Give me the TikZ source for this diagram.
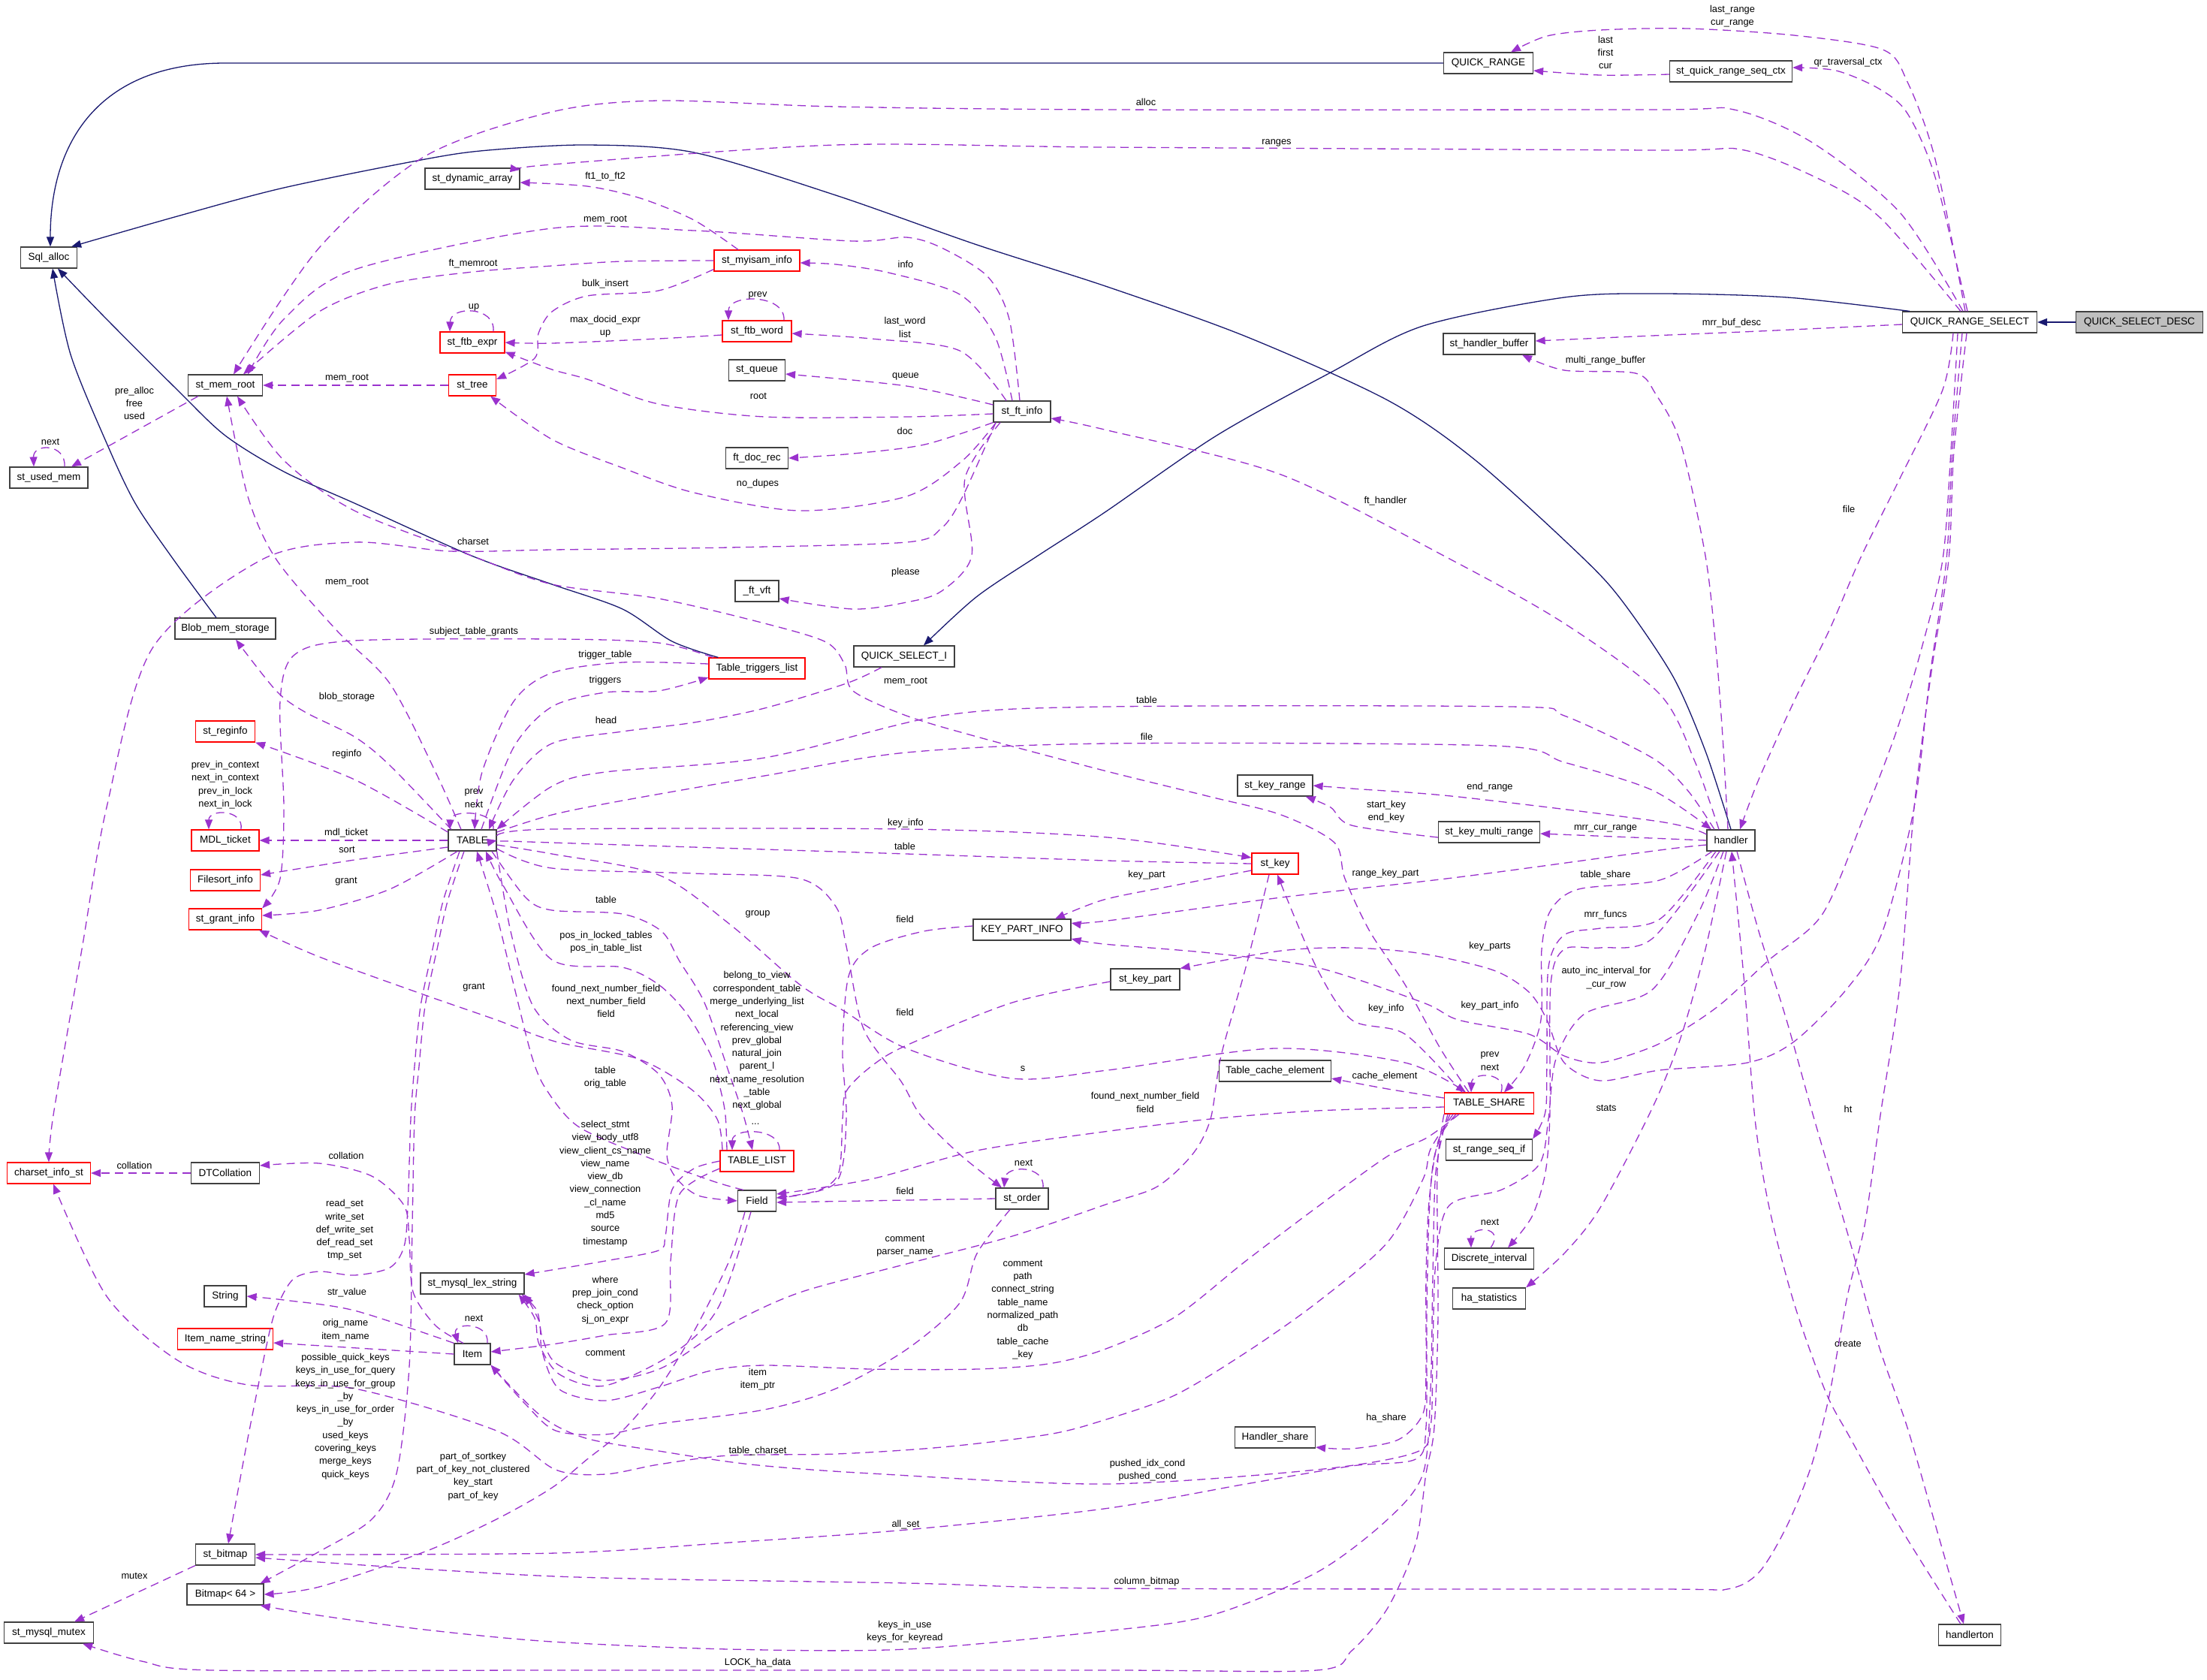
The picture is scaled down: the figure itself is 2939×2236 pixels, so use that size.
\documentclass[tikz,border=0pt]{standalone}
\usepackage{fontspec}
\setmainfont{Liberation Sans}
\usetikzlibrary{arrows.meta}
\definecolor{edgepurple}{HTML}{9A32CD}
\definecolor{navyblue}{HTML}{191970}
\definecolor{boxgray}{HTML}{404040}
\definecolor{boxred}{HTML}{FF0000}
\definecolor{fillgray}{HTML}{BFBFBF}
\newcommand\mynodefont{\fontsize{13.5}{16}\selectfont}
\newcommand\mylblfont{\fontsize{12.8}{17.3}\selectfont}
\tikzset{
  box/.style={draw=boxgray, line width=1.2pt, fill=white, minimum height=28pt, inner xsep=2pt, inner ysep=0pt, font=\mynodefont},
  rbox/.style={box, draw=boxred},
  lbl/.style={font=\mylblfont, align=center, inner sep=0pt},
  dedge/.style={draw=edgepurple, line width=1.3pt, dash pattern=on 11pt off 7pt, -{Triangle[length=13pt,width=10pt]}},
  inh/.style={draw=navyblue, line width=1.3pt, -{Triangle[length=13pt,width=10pt]}}
}
\begin{document}
\begin{tikzpicture}[x=1pt,y=-1pt]
\fill[white] (0,0) rectangle (2939,2236);
\useasboundingbox (0,0) rectangle (2939,2236);
% nodes
\node[box, minimum width=75pt] (sqlalloc) at (65,343) {Sql\_alloc};
\node[box, minimum width=126pt] (dynarr) at (629,238) {st\_dynamic\_array};
\node[box, minimum width=99pt] (memroot) at (300,513) {st\_mem\_root};
\node[rbox, minimum width=86pt] (ftbexpr) at (629,456) {st\_ftb\_expr};
\node[rbox, minimum width=63pt] (sttree) at (629,513) {st\_tree};
\node[box, minimum width=104pt] (usedmem) at (65,636) {st\_used\_mem};
\node[rbox, minimum width=114pt] (myisam) at (1008,347) {st\_myisam\_info};
\node[rbox, minimum width=92pt] (ftbword) at (1008,441) {st\_ftb\_word};
\node[box, minimum width=75pt] (stqueue) at (1008,493) {st\_queue};
\node[box, minimum width=76pt] (ftinfo) at (1361,548) {st\_ft\_info};
\node[box, minimum width=83pt] (ftdocrec) at (1008,610) {ft\_doc\_rec};
\node[box, minimum width=119pt] (qrange) at (1982,84) {QUICK\_RANGE};
\node[box, minimum width=122pt] (hbuffer) at (1983,458) {st\_handler\_buffer};
\node[box, minimum width=163pt] (seqctx) at (2305,95) {st\_quick\_range\_seq\_ctx};
\node[box, minimum width=179pt] (qrs) at (2623,429) {QUICK\_RANGE\_SELECT};
\node[box, fill=fillgray, minimum width=169pt] (qsd) at (2849,429) {QUICK\_SELECT\_DESC};
\node[box, minimum width=134pt] (blob) at (300,837) {Blob\_mem\_storage};
\node[rbox, minimum width=79pt] (reginfo) at (300,974) {st\_reginfo};
\node[rbox, minimum width=90pt] (mdl) at (300,1119) {MDL\_ticket};
\node[rbox, minimum width=93pt] (filesort) at (300,1172) {Filesort\_info};
\node[rbox, minimum width=97pt] (grantinfo) at (300,1224) {st\_grant\_info};
\node[box, minimum width=64pt] (table) at (629,1119) {TABLE};
\node[box, minimum width=58pt] (ftvft) at (1008,787) {\_ft\_vft};
\node[rbox, minimum width=128pt] (ttl) at (1008,890) {Table\_triggers\_list};
\node[box, minimum width=134pt] (qsi) at (1204,874) {QUICK\_SELECT\_I};
\node[box, minimum width=130pt] (kpi) at (1361,1238) {KEY\_PART\_INFO};
\node[box, minimum width=100pt] (keyrange) at (1698,1046) {st\_key\_range};
\node[box, minimum width=135pt] (keymulti) at (1983,1108) {st\_key\_multi\_range};
\node[rbox, minimum width=62pt] (stkey) at (1698,1150) {st\_key};
\node[box, minimum width=92pt] (keypart) at (1525,1304) {st\_key\_part};
\node[box, minimum width=149pt] (tce) at (1698,1426) {Table\_cache\_element};
\node[rbox, minimum width=119pt] (tshare) at (1983,1469) {TABLE\_SHARE};
\node[box, minimum width=64pt] (handler) at (2305,1119) {handler};
\node[rbox, minimum width=111pt] (charset) at (65,1562) {charset\_info\_st};
\node[box, minimum width=91pt] (dtcoll) at (300,1562) {DTCollation};
\node[box, minimum width=56pt] (string) at (300,1726) {String};
\node[rbox, minimum width=127pt] (itemname) at (300,1783) {Item\_name\_string};
\node[box, minimum width=48pt] (item) at (629,1803) {Item};
\node[box, minimum width=138pt] (lexstr) at (629,1709) {st\_mysql\_lex\_string};
\node[box, minimum width=79pt] (bitmap) at (300,2070) {st\_bitmap};
\node[box, minimum width=102pt] (bitmapsf) at (300,2123) {Bitmap< 64 >};
\node[box, minimum width=119pt] (mutex) at (65,2174) {st\_mysql\_mutex};
\node[rbox, minimum width=98pt] (tlist) at (1008,1546) {TABLE\_LIST};
\node[box, minimum width=51pt] (field) at (1008,1599) {Field};
\node[box, minimum width=70pt] (order) at (1361,1596) {st\_order};
\node[box, minimum width=115pt] (rangeseq) at (1983,1531) {st\_range\_seq\_if};
\node[box, minimum width=119pt] (discrete) at (1983,1676) {Discrete\_interval};
\node[box, minimum width=97pt] (hastats) at (1983,1729) {ha\_statistics};
\node[box, minimum width=107pt] (hshare) at (1698,1914) {Handler\_share};
\node[box, minimum width=83pt] (hton) at (2623,2177) {handlerton};
\coordinate (qrbend) at (300,84);
% inheritance (solid)
\draw[inh] (qsd.west) -- (qrs.east);
\draw[inh] plot[smooth] coordinates {([xshift=10pt]qrs.north west) (2380,396) (2210,391) (2083,396) (1895,434) (1772,496) (1620,580) (1470,683) (1382,740) (1300,795) ([xshift=26pt]qsi.north)};
\draw[inh] (qrange.west) -- (qrbend) .. controls (140,84) and (67,180) .. ([xshift=2pt]sqlalloc.north);
\draw[inh] plot[smooth] coordinates {(handler.north) (2271,1000) (2228,901) (2160,800) (2105,740) (1965,613) (1848,533) (1659,448) (1475,382) (1301,326) (1113,260) (924,203) (782,193) (650,200) (566,212) (378,250) (236,288) ([xshift=-8pt]sqlalloc.north east)};
\draw[inh] plot[smooth] coordinates {([xshift=13pt]ttl.north west) (895,854) (829,811) (735,778) (628,740) (472,670) (378,628) (300,580) (236,519) (142,425) ([xshift=12pt]sqlalloc.south)};
\draw[inh] plot[smooth] coordinates {([xshift=-12pt]blob.north) (231,745) (180,670) (142,590) (94,472) ([xshift=5pt]sqlalloc.south)};
% QUICK_RANGE_SELECT members
\draw[dedge] plot[smooth] coordinates {([xshift=-6pt]qrs.north) (2577,212) (2540,109) (2507,66) (2389,47) (2247,38) (2131,40) (2060,48) ([xshift=30pt]qrange.north)};
\draw[dedge] plot[smooth] coordinates {([yshift=-4pt]seqctx.west) (2131,100) ([yshift=-10pt]qrange.east)};
\draw[dedge] plot[smooth] coordinates {([xshift=-3pt]qrs.north) (2577,236) (2540,151) (2502,118) (2445,94) ([yshift=5pt]seqctx.east)};
\draw[dedge] plot[smooth] coordinates {([xshift=-9pt]qrs.north) (2530,283) (2412,189) (2309,146) (2200,146) (1475,146) (1113,142) (877,134) (735,149) (566,208) (425,330) ([xshift=11pt]memroot.north)};
\draw[dedge] plot[smooth] coordinates {([xshift=-12pt]qrs.north) (2507,293) (2436,245) (2323,200) (2200,200) (1470,196) (1113,193) (735,219) ([yshift=12pt]dynarr.east)};
\draw[dedge] plot[smooth] coordinates {([yshift=-3pt]qrs.west) (2342,441) (2200,447) ([yshift=4pt]hbuffer.east)};
\draw[dedge] plot[smooth] coordinates {([xshift=-22pt]qrs.south) (2587,519) (2530,637) (2478,742) (2436,839) (2389,934) (2342,1038) ([xshift=12pt]handler.north)};
\draw[dedge] plot[smooth] coordinates {([xshift=-16pt]qrs.south) (2598,600) (2587,745) (2559,863) (2526,972) (2483,1085) (2427,1217) (2356,1278) (2294,1335) (2247,1368) (2200,1394) (2131,1415) (2083,1406) (2036,1377) (1942,1358) (1895,1335) (1753,1288) (1612,1269) (1470,1257) ([yshift=-12pt]kpi.east)};
\draw[dedge] plot[smooth] coordinates {([xshift=-10pt]qrs.south) (2600,600) (2592,745) (2570,900) (2549,1075) (2507,1240) (2460,1316) (2389,1387) (2327,1415) (2210,1425) (2131,1439) (2083,1415) (2060,1358) (2036,1321) (1989,1292) (1895,1270) (1800,1262) (1706,1266) (keypart.north east)};
\draw[dedge] plot[smooth] coordinates {([xshift=-4pt]qrs.south) (2602,600) (2595,745) (2573,887) (2549,1075) (2530,1311) (2504,1485) (2483,1632) (2460,1726) (2436,1858) (2412,1952) (2379,2033) (2342,2094) (2300,2116) (2208,2116) (1475,2115) (1207,2108) (740,2099) ([yshift=-4pt]bitmap.east)};
% fulltext area
\draw[dedge] plot[smooth] coordinates {([xshift=-25pt]myisam.north) (924,293) (853,264) (782,248) ([yshift=-5pt]dynarr.east)};
\draw[dedge] plot[smooth] coordinates {([xshift=-3pt]ftinfo.north) (1344,425) (1315,368) (1254,330) (1207,316) (1136,321) (924,307) (735,304) (472,359) (378,425) ([xshift=30pt]memroot.north)};
\draw[dedge] plot[smooth] coordinates {(myisam.west) (829,348) (735,354) (630,362) (519,378) (425,415) ([xshift=24pt]memroot.north)};
\draw[dedge] plot[smooth] coordinates {([yshift=3pt]myisam.south west) (877,387) (782,394) (735,415) (717,444) (712,477) ([yshift=8pt]sttree.east)};
\draw[dedge] ([xshift=28pt]ftbexpr.north) .. controls (660,407) and (600,407) .. ([xshift=-30pt]ftbexpr.north);
\draw[dedge] plot[smooth] coordinates {([yshift=-5pt]ftbword.west) (877,451) (735,457) (ftbexpr.east)};
\draw[dedge] ([xshift=36pt]ftbword.north) .. controls (1046,391) and (970,391) .. ([xshift=-38pt]ftbword.north);
\draw[dedge] plot[smooth] coordinates {([xshift=-13pt]ftinfo.north) (1325,448) (1278,392) (1183,363) (1113,352) ([yshift=-3pt]myisam.east)};
\draw[dedge] plot[smooth] coordinates {([xshift=-21pt]ftinfo.north) (1278,467) (1160,451) ([yshift=-3pt]ftbword.east)};
\draw[dedge] plot[smooth] coordinates {([yshift=9pt]ftinfo.west) (1207,514) ([yshift=-5pt]stqueue.east)};
\draw[dedge] plot[smooth] coordinates {([yshift=-3pt]ftinfo.west) (1207,555) (1018,555) (877,538) (782,505) (735,492) ([yshift=2pt]ftbexpr.south east)};
\draw[dedge] plot[smooth] coordinates {(ftinfo.south west) (1231,592) (1136,604) (ftdocrec.east)};
\draw[dedge] plot[smooth] coordinates {([xshift=4pt]ftinfo.south west) (1282,613) (1207,661) (1065,680) (924,656) (829,623) (735,585) ([xshift=-8pt]sttree.south east)};
\draw[dedge] plot[smooth] coordinates {([xshift=-29pt]ftinfo.south) (1285,637) (1294,740) (1254,787) (1207,802) (1136,811) ([yshift=-10pt]ftvft.east)};
\draw[dedge] plot[smooth] coordinates {([xshift=-35pt]ftinfo.south) (1282,661) (1254,703) (1207,722) (971,729) (735,732) (600,734) (472,722) (349,745) (203,863) (142,1075) (109,1264) (71,1485) (charset.north)};
\draw[dedge] (sttree.west) -- (memroot.east);
\draw[dedge] ([xshift=14pt]memroot.south west) -- ([xshift=30pt]usedmem.north);
\draw[dedge] ([xshift=21pt]usedmem.north) .. controls (88,590) and (44,590) .. ([xshift=-20pt]usedmem.north);
% TABLE members
\draw[dedge] plot[smooth] coordinates {([xshift=-15pt]table.north) (580,1028) (519,910) (448,839) (368,745) (330,661) ([xshift=2pt]memroot.south)};
\draw[dedge] plot[smooth] coordinates {([xshift=-28pt]table.north) (519,1019) (472,981) (406,948) (368,920) ([xshift=14pt]blob.south)};
\draw[dedge] plot[smooth] coordinates {([yshift=11pt]table.west) (472,1038) (reginfo.south east)};
\draw[dedge] (table.west) -- (mdl.east);
\draw[dedge] ([xshift=21pt]mdl.north) .. controls (325,1077) and (278,1077) .. ([xshift=-22pt]mdl.north);
\draw[dedge] plot[smooth] coordinates {([yshift=-9pt]table.west) (472,1145) ([yshift=7pt]filesort.east)};
\draw[dedge] plot[smooth] coordinates {([xshift=-20pt]table.south) (519,1184) (425,1212) ([yshift=5pt]grantinfo.east)};
\draw[dedge] plot[smooth] coordinates {([xshift=6pt]ttl.north west) (877,856) (740,851) (472,853) (392,872) (373,934) (378,1075) (373,1170) (grantinfo.north east)};
\draw[dedge] plot[smooth] coordinates {([yshift=6pt]ttl.west) (829,882) (735,896) (684,934) (642,1028) ([xshift=3pt]table.north)};
\draw[dedge] plot[smooth] coordinates {([xshift=12pt]table.north) (684,995) (735,941) (806,922) (877,920) ([yshift=-12pt]ttl.west)};
\draw[dedge] plot[smooth] coordinates {([xshift=-30pt]qsi.south) (1127,910) (1018,943) (924,962) (829,974) (735,990) (684,1038) ([xshift=22pt]table.north)};
\draw[dedge] ([xshift=28pt]table.north) .. controls (660,1078) and (600,1078) .. ([xshift=-30pt]table.north);
\draw[dedge] plot[smooth] coordinates {([xshift=-22pt]handler.north) (2247,1052) (2200,1009) (2083,953) (2013,941) (1475,941) (1254,953) (1018,1009) (806,1028) (735,1047) (table.north east)};
\draw[dedge] plot[smooth] coordinates {([yshift=11pt]table.east) (735,1085) (829,1066) (1018,1033) (1207,1002) (1475,990) (1989,993) (2083,1015) (2200,1052) ([xshift=-26pt]handler.north)};
\draw[dedge] plot[smooth] coordinates {([yshift=6pt]table.east) (735,1104) (1207,1104) (1475,1115) ([yshift=8pt]stkey.west)};
\draw[dedge] plot[smooth] coordinates {(stkey.west) (1475,1146) (1207,1137) (735,1122) (table.east)};
\draw[dedge] plot[smooth] coordinates {([yshift=-6pt]table.east) (735,1137) (877,1165) (971,1230) (1065,1311) (1122,1345) (1207,1396) (1348,1436) (1475,1425) (1697,1396) (1871,1415) ([xshift=-31pt]tshare.north)};
\draw[dedge] plot[smooth] coordinates {([yshift=-11pt]table.east) (735,1156) (924,1163) (1065,1170) (1113,1207) (1127,1260) (1150,1370) (1200,1440) (1226,1485) (1278,1537) ([xshift=-27pt]order.north)};
\draw[dedge] plot[smooth] coordinates {([xshift=26pt]table.south) (700,1195) (735,1212) (829,1217) (881,1240) (905,1280) (938,1335) (971,1429) (990,1485) ([xshift=-6pt]tlist.north)};
\draw[dedge] plot[smooth] coordinates {([xshift=-40pt]tlist.north) (966,1485) (960,1453) (947,1406) (914,1349) (877,1311) (829,1288) (735,1278) (670,1179) ([xshift=18pt]table.south)};
\draw[dedge] plot[smooth] coordinates {(table.south east) (680,1240) (710,1340) (760,1385) (829,1400) (877,1430) (895,1472) (888,1537) (900,1568) (930,1592) (field.west)};
\draw[dedge] plot[smooth] coordinates {([xshift=-18pt]field.north) (950,1573) (860,1540) (770,1500) (727,1450) (708,1406) (684,1311) (661,1217) ([xshift=6pt]table.south)};
\draw[dedge] plot[smooth] coordinates {([xshift=-46pt]tlist.north) (955,1490) (920,1450) (850,1410) (740,1387) (661,1358) (566,1325) (425,1274) ([xshift=-4pt]grantinfo.south east)};
\draw[dedge] ([xshift=30pt]tlist.north) .. controls (1040,1501) and (975,1501) .. ([xshift=-33pt]tlist.north);
\draw[dedge] plot[smooth] coordinates {([xshift=-17pt]table.south) (590,1200) (576,1264) (560,1340) (552,1420) (547,1490) (543,1608) (538,1660) (519,1688) (472,1698) (425,1693) (392,1702) (373,1731) (359,1773) (330,1915) ([xshift=4pt]bitmap.north)};
\draw[dedge] plot[smooth] coordinates {([xshift=-11pt]table.south) (596,1200) (582,1264) (566,1340) (558,1420) (552,1490) (549,1632) (545,1820) (528,1962) (495,2023) (425,2066) ([xshift=-5pt]bitmapsf.north east)};
% key related
\draw[dedge] plot[smooth] coordinates {([yshift=8pt]handler.west) (2210,1094) (1942,1061) (1800,1050) (keyrange.east)};
\draw[dedge] plot[smooth] coordinates {([yshift=-7pt]keymulti.west) (1800,1099) (1772,1075) ([xshift=-10pt]keyrange.south east)};
\draw[dedge] (handler.west) -- ([yshift=-2pt]keymulti.east);
\draw[dedge] plot[smooth] coordinates {([yshift=-6pt]handler.west) (2210,1132) (1942,1168) (1706,1195) (1475,1226) ([yshift=9pt]kpi.east)};
\draw[dedge] plot[smooth] coordinates {([yshift=-9pt]stkey.west) (1564,1179) (1470,1198) ([xshift=44pt]kpi.north)};
\draw[dedge] plot[smooth] coordinates {([yshift=5pt]kpi.west) (1230,1240) (1160,1262) (1130,1300) (1122,1400) (1127,1490) (1113,1575) ([yshift=4pt]field.east)};
\draw[dedge] plot[smooth] coordinates {([yshift=-3pt]keypart.west) (1348,1335) (1207,1392) (1160,1420) (1127,1453) (1122,1490) (1117,1561) (1090,1585) ([yshift=4pt]field.east)};
\draw[dedge] (order.west) -- ([yshift=-2pt]field.east);
\draw[dedge] ([xshift=28pt]order.north) .. controls (1392,1551) and (1340,1551) .. ([xshift=-24pt]order.north);
% handler members
\draw[dedge] plot[smooth] coordinates {([xshift=-16pt]handler.north) (2257,1014) (2210,924) (2083,830) (1932,745) (1706,632) (1475,573) ([yshift=-9pt]ftinfo.east)};
\draw[dedge] plot[smooth] coordinates {([xshift=-4pt]handler.north) (2294,981) (2285,863) (2271,740) (2238,590) (2205,525) (2178,497) (2083,493) ([xshift=44pt]hbuffer.south)};
\draw[dedge] plot[smooth] coordinates {([xshift=-25pt]handler.south) (2210,1172) (2102,1184) (2065,1212) (2053,1264) (2052,1358) (2030,1420) ([xshift=20pt]tshare.north)};
\draw[dedge] plot[smooth] coordinates {([xshift=-20pt]handler.south) (2210,1224) (2131,1236) (2083,1245) (2062,1288) (2060,1406) (2058,1480) (rangeseq.north east)};
\draw[dedge] plot[smooth] coordinates {([xshift=-15pt]handler.south) (2200,1250) (2131,1262) (2083,1264) (2065,1311) (2064,1481) (2058,1561) (2040,1620) ([xshift=25pt]discrete.north)};
\draw[dedge] plot[smooth] coordinates {([xshift=-6pt]handler.south) (2271,1264) (2238,1382) (2200,1476) (2131,1608) (2083,1669) (hastats.north east)};
\draw[dedge] plot[smooth] coordinates {([xshift=-10pt]handler.south) (2261,1217) (2200,1318) (2110,1350) (2072,1410) (2062,1490) (2050,1550) (2000,1584) (1930,1605) (1912,1680) (1908,1800) (1905,1900) (1885,1934) (1753,1957) (1470,1976) (1160,1962) (1000,1950) (877,1932) (780,1915) (720,1885) (item.south east)};
\draw[dedge] plot[smooth] coordinates {([xshift=8pt]handler.south) (2342,1240) (2379,1358) (2415,1487) (2464,1655) (2502,1792) (2540,1901) (2578,2033) ([xshift=-8pt]hton.north)};
\draw[dedge] plot[smooth] coordinates {([xshift=-12pt]hton.north) (2530,2033) (2464,1915) (2431,1853) (2389,1735) (2356,1608) (2337,1490) (2323,1311) ([xshift=1pt]handler.south)};
\draw[dedge] ([xshift=2pt]discrete.north) .. controls (2006,1632) and (1958,1632) .. ([xshift=-24pt]discrete.north);
% TABLE_SHARE members
\draw[dedge] ([xshift=16pt]tshare.north) .. controls (2008,1427) and (1960,1427) .. ([xshift=-24pt]tshare.north);
\draw[dedge] plot[smooth] coordinates {([xshift=-36pt]tshare.north) (1871,1377) (1800,1358) (1753,1288) ([xshift=3pt]stkey.south)};
\draw[dedge] plot[smooth] coordinates {([xshift=-27pt]tshare.north) (1918,1396) (1871,1311) (1824,1240) (1791,1170) (1777,1122) (1706,1085) (1612,1061) (1470,1026) (1301,981) (1207,953) (1136,920) (1125,885) (1100,855) (1018,830) (877,797) (735,778) (628,740) (472,680) (378,613) ([xshift=16pt]memroot.south)};
\draw[dedge] plot[smooth] coordinates {([yshift=7pt]tshare.west) (1848,1450) ([yshift=-10pt]tce.east)};
\draw[dedge] plot[smooth] coordinates {([yshift=-5pt]tshare.west) (1753,1479) (1612,1490) (1470,1507) (1301,1532) (1160,1570) ([yshift=9pt]field.east)};
\draw[dedge] plot[smooth] coordinates {([xshift=-44pt]tshare.south) (1915,1520) (1903,1600) (1899,1700) (1899,1820) (1895,1882) (1862,1917) (1800,1929) ([yshift=-13pt]hshare.east)};
\draw[dedge] plot[smooth] coordinates {([xshift=-40pt]tshare.south) (1900,1515) (1847,1540) (1753,1608) (1659,1679) (1564,1754) (1470,1797) (1396,1816) (1301,1823) (1160,1823) (1018,1818) (947,1825) (877,1847) (806,1865) (745,1850) (722,1800) (718,1760) (lexstr.south east)};
\draw[dedge] plot[smooth] coordinates {([xshift=-48pt]tshare.south) (1905,1530) (1895,1570) (1847,1655) (1753,1735) (1659,1801) (1564,1858) (1470,1891) (1396,1910) (1254,1927) (1113,1936) (971,1938) (877,1950) (806,1963) (740,1957) (661,1905) (472,1849) (330,1844) (236,1811) (142,1726) ([xshift=6pt]charset.south)};
\draw[dedge] plot[smooth] coordinates {([xshift=-52pt]tshare.south) (1910,1540) (1903,1620) (1900,1750) (1899,1900) (1885,1943) (1800,1952) (1659,1976) (1470,2009) (1207,2037) (971,2054) (740,2068) (bitmap.east)};
\draw[dedge] plot[smooth] coordinates {([xshift=-55pt]tshare.south) (1912,1560) (1908,1700) (1905,1850) (1895,1962) (1848,2023) (1753,2094) (1612,2151) (1470,2172) (1207,2196) (971,2196) (735,2186) (566,2170) (425,2151) ([xshift=-5pt]bitmapsf.south east)};
\draw[dedge] plot[smooth] coordinates {(tshare.south west) (1914,1560) (1915,1750) (1910,1900) (1899,1962) (1885,2056) (1848,2141) (1800,2198) (1753,2224) (1475,2224) (735,2224) (283,2224) (189,2212) ([xshift=-15pt]mutex.south east)};
% TABLE_LIST / Field / Item / st_order
\draw[dedge] plot[smooth] coordinates {(tlist.west) (924,1556) (895,1584) (886,1646) (877,1665) (806,1679) (735,1691) ([yshift=12pt]lexstr.east)};
\draw[dedge] plot[smooth] coordinates {([yshift=-10pt]tlist.west) (905,1590) (893,1679) (886,1762) (806,1778) (735,1790) ([yshift=3pt]item.east)};
\draw[dedge] plot[smooth] coordinates {([xshift=-16pt]order.south) (1301,1669) (1278,1735) (1207,1797) (1113,1849) (1018,1877) (877,1896) (806,1910) (740,1905) (700,1870) (item.south east)};
\draw[dedge] plot[smooth] coordinates {([xshift=-16pt]field.south) (971,1679) (924,1773) (877,1849) (829,1905) (782,1943) (735,1981) (661,2023) (566,2066) (425,2113) (bitmapsf.east)};
\draw[dedge] plot[smooth] coordinates {([xshift=-8pt]field.south) (957,1740) (900,1800) (806,1845) (745,1830) (718,1790) (712,1755) ([xshift=-8pt]lexstr.south east)};
\draw[dedge] plot[smooth] coordinates {([xshift=-8pt]stkey.south) (1659,1288) (1626,1406) (1612,1490) (1588,1537) (1541,1580) (1475,1603) (1348,1646) (1207,1683) (1065,1721) (971,1764) (880,1822) (800,1838) (740,1815) (722,1780) (715,1745) ([xshift=-4pt]lexstr.south east)};
\draw[dedge] plot[smooth] coordinates {([xshift=-12pt]item.north) (580,1765) (550,1720) (545,1650) (538,1605) (495,1566) (425,1549) ([yshift=10pt]dtcoll.east)};
\draw[dedge] plot[smooth] coordinates {(item.north west) (472,1745) (378,1731) (string.east)};
\draw[dedge] (item.west) -- ([yshift=-5pt]itemname.east);
\draw[dedge] ([xshift=20pt]item.north) .. controls (652,1760) and (602,1760) .. ([xshift=-19pt]item.north);
\draw[dedge] (dtcoll.west) -- (charset.east);
\draw[dedge] (bitmap.south west) -- ([xshift=-26pt]mutex.north east);
% labels
\node[lbl] (l1) at (2307,22) {last\_range\\cur\_range};
\node[lbl] (l2) at (2138,70) {last\\first\\cur};
\node[lbl] (l3) at (2461,83) {qr\_traversal\_ctx};
\node[lbl] (l4) at (1526,136) {alloc};
\node[lbl] (l5) at (1700,190) {ranges};
\node[lbl] (l6) at (806,235) {ft1\_to\_ft2};
\node[lbl] (l7) at (806,293) {mem\_root};
\node[lbl] (l8) at (630,351) {ft\_memroot};
\node[lbl] (l9) at (806,378) {bulk\_insert};
\node[lbl] (l10) at (631,409) {up};
\node[lbl] (l11) at (806,435) {max\_docid\_expr\\up};
\node[lbl] (l12) at (1009,393) {prev};
\node[lbl] (l13) at (1206,352) {info};
\node[lbl] (l14) at (1205,436) {last\_word\\list};
\node[lbl] (l15) at (1206,501) {queue};
\node[lbl] (l16) at (1010,527) {root};
\node[lbl] (l17) at (1205,574) {doc};
\node[lbl] (l18) at (1009,644) {no\_dupes};
\node[lbl] (l19) at (1206,762) {please};
\node[lbl] (l20) at (630,721) {charset};
\node[lbl] (l21) at (462,504) {mem\_root};
\node[lbl] (l22) at (179,537) {pre\_alloc\\free\\used};
\node[lbl] (l23) at (67,588) {next};
\node[lbl] (l24) at (2138,480) {multi\_range\_buffer};
\node[lbl] (l25) at (1845,667) {ft\_handler};
\node[lbl] (l26) at (2306,430) {mrr\_buf\_desc};
\node[lbl] (l27) at (2462,678) {file};
\node[lbl] (l28) at (462,776) {mem\_root};
\node[lbl] (l29) at (631,841) {subject\_table\_grants};
\node[lbl] (l30) at (462,928) {blob\_storage};
\node[lbl] (l31) at (462,1004) {reginfo};
\node[lbl] (l32) at (300,1045) {prev\_in\_context\\next\_in\_context\\prev\_in\_lock\\next\_in\_lock};
\node[lbl] (l33) at (631,1063) {prev\\next};
\node[lbl] (l34) at (461,1109) {mdl\_ticket};
\node[lbl] (l35) at (462,1131) {sort};
\node[lbl] (l36) at (461,1174) {grant};
\node[lbl] (l37) at (631,1315) {grant};
\node[lbl] (l38) at (806,872) {trigger\_table};
\node[lbl] (l39) at (806,906) {triggers};
\node[lbl] (l40) at (1206,908) {mem\_root};
\node[lbl] (l41) at (807,959) {head};
\node[lbl] (l42) at (1206,1096) {key\_info};
\node[lbl] (l43) at (1205,1127) {table};
\node[lbl] (l44) at (807,1198) {table};
\node[lbl] (l45) at (1009,1217) {group};
\node[lbl] (l46) at (1205,1224) {field};
\node[lbl] (l47) at (807,1255) {pos\_in\_locked\_tables\\pos\_in\_table\_list};
\node[lbl] (l48) at (1008,1386) {belong\_to\_view\\correspondent\_table\\merge\_underlying\_list\\next\_local\\referencing\_view\\prev\_global\\natural\_join\\parent\_l\\next\_name\_resolution\\\_table\\next\_global};
\node[lbl] (l49) at (807,1333) {found\_next\_number\_field\\next\_number\_field\\field};
\node[lbl] (l50) at (1205,1348) {field};
\node[lbl] (l51) at (1362,1423) {s};
\node[lbl] (l52) at (806,1435) {table\\orig\_table};
\node[lbl] (l53) at (1527,932) {table};
\node[lbl] (l54) at (1527,981) {file};
\node[lbl] (l55) at (1984,1048) {end\_range};
\node[lbl] (l56) at (1846,1081) {start\_key\\end\_key};
\node[lbl] (l57) at (2138,1103) {mrr\_cur\_range};
\node[lbl] (l58) at (1527,1165) {key\_part};
\node[lbl] (l59) at (1845,1163) {range\_key\_part};
\node[lbl] (l60) at (2138,1165) {table\_share};
\node[lbl] (l61) at (2138,1218) {mrr\_funcs};
\node[lbl] (l62) at (1984,1260) {key\_parts};
\node[lbl] (l63) at (2139,1302) {auto\_inc\_interval\_for\\\_cur\_row};
\node[lbl] (l64) at (1846,1343) {key\_info};
\node[lbl] (l65) at (1984,1339) {key\_part\_info};
\node[lbl] (l66) at (1984,1413) {prev\\next};
\node[lbl] (l67) at (1844,1433) {cache\_element};
\node[lbl] (l68) at (2139,1475) {stats};
\node[lbl] (l69) at (1525,1468) {found\_next\_number\_field\\field};
\node[lbl] (l70) at (2461,1477) {ht};
\node[lbl] (l71) at (179,1552) {collation};
\node[lbl] (l72) at (461,1539) {collation};
\node[lbl] (l73) at (459,1638) {read\_set\\write\_set\\def\_write\_set\\def\_read\_set\\tmp\_set};
\node[lbl] (l74) at (462,1721) {str\_value};
\node[lbl] (l75) at (631,1755) {next};
\node[lbl] (l76) at (460,1771) {orig\_name\\item\_name};
\node[lbl] (l77) at (460,1886) {possible\_quick\_keys\\keys\_in\_use\_for\_query\\keys\_in\_use\_for\_group\\\_by\\keys\_in\_use\_for\_order\\\_by\\used\_keys\\covering\_keys\\merge\_keys\\quick\_keys};
\node[lbl] (l78) at (630,1966) {part\_of\_sortkey\\part\_of\_key\_not\_clustered\\key\_start\\part\_of\_key};
\node[lbl] (l79) at (179,2098) {mutex};
\node[lbl] (l80) at (1006,1497) {...};
\node[lbl] (l81) at (806,1576) {select\_stmt\\view\_body\_utf8\\view\_client\_cs\_name\\view\_name\\view\_db\\view\_connection\\\_cl\_name\\md5\\source\\timestamp};
\node[lbl] (l82) at (1205,1586) {field};
\node[lbl] (l83) at (1205,1659) {comment\\parser\_name};
\node[lbl] (l84) at (1362,1744) {comment\\path\\connect\_string\\table\_name\\normalized\_path\\db\\table\_cache\\\_key};
\node[lbl] (l85) at (806,1731) {where\\prep\_join\_cond\\check\_option\\sj\_on\_expr};
\node[lbl] (l86) at (806,1801) {comment};
\node[lbl] (l87) at (1009,1837) {item\\item\_ptr};
\node[lbl] (l88) at (1009,1932) {table\_charset};
\node[lbl] (l89) at (1206,2030) {all\_set};
\node[lbl] (l90) at (1205,2173) {keys\_in\_use\\keys\_for\_keyread};
\node[lbl] (l91) at (1009,2214) {LOCK\_ha\_data};
\node[lbl] (l92) at (1363,1548) {next};
\node[lbl] (l93) at (1984,1627) {next};
\node[lbl] (l94) at (1846,1888) {ha\_share};
\node[lbl] (l95) at (1528,1958) {pushed\_idx\_cond\\pushed\_cond};
\node[lbl] (l96) at (1527,2106) {column\_bitmap};
\node[lbl] (l97) at (2461,1789) {create};
\end{tikzpicture}
\end{document}
